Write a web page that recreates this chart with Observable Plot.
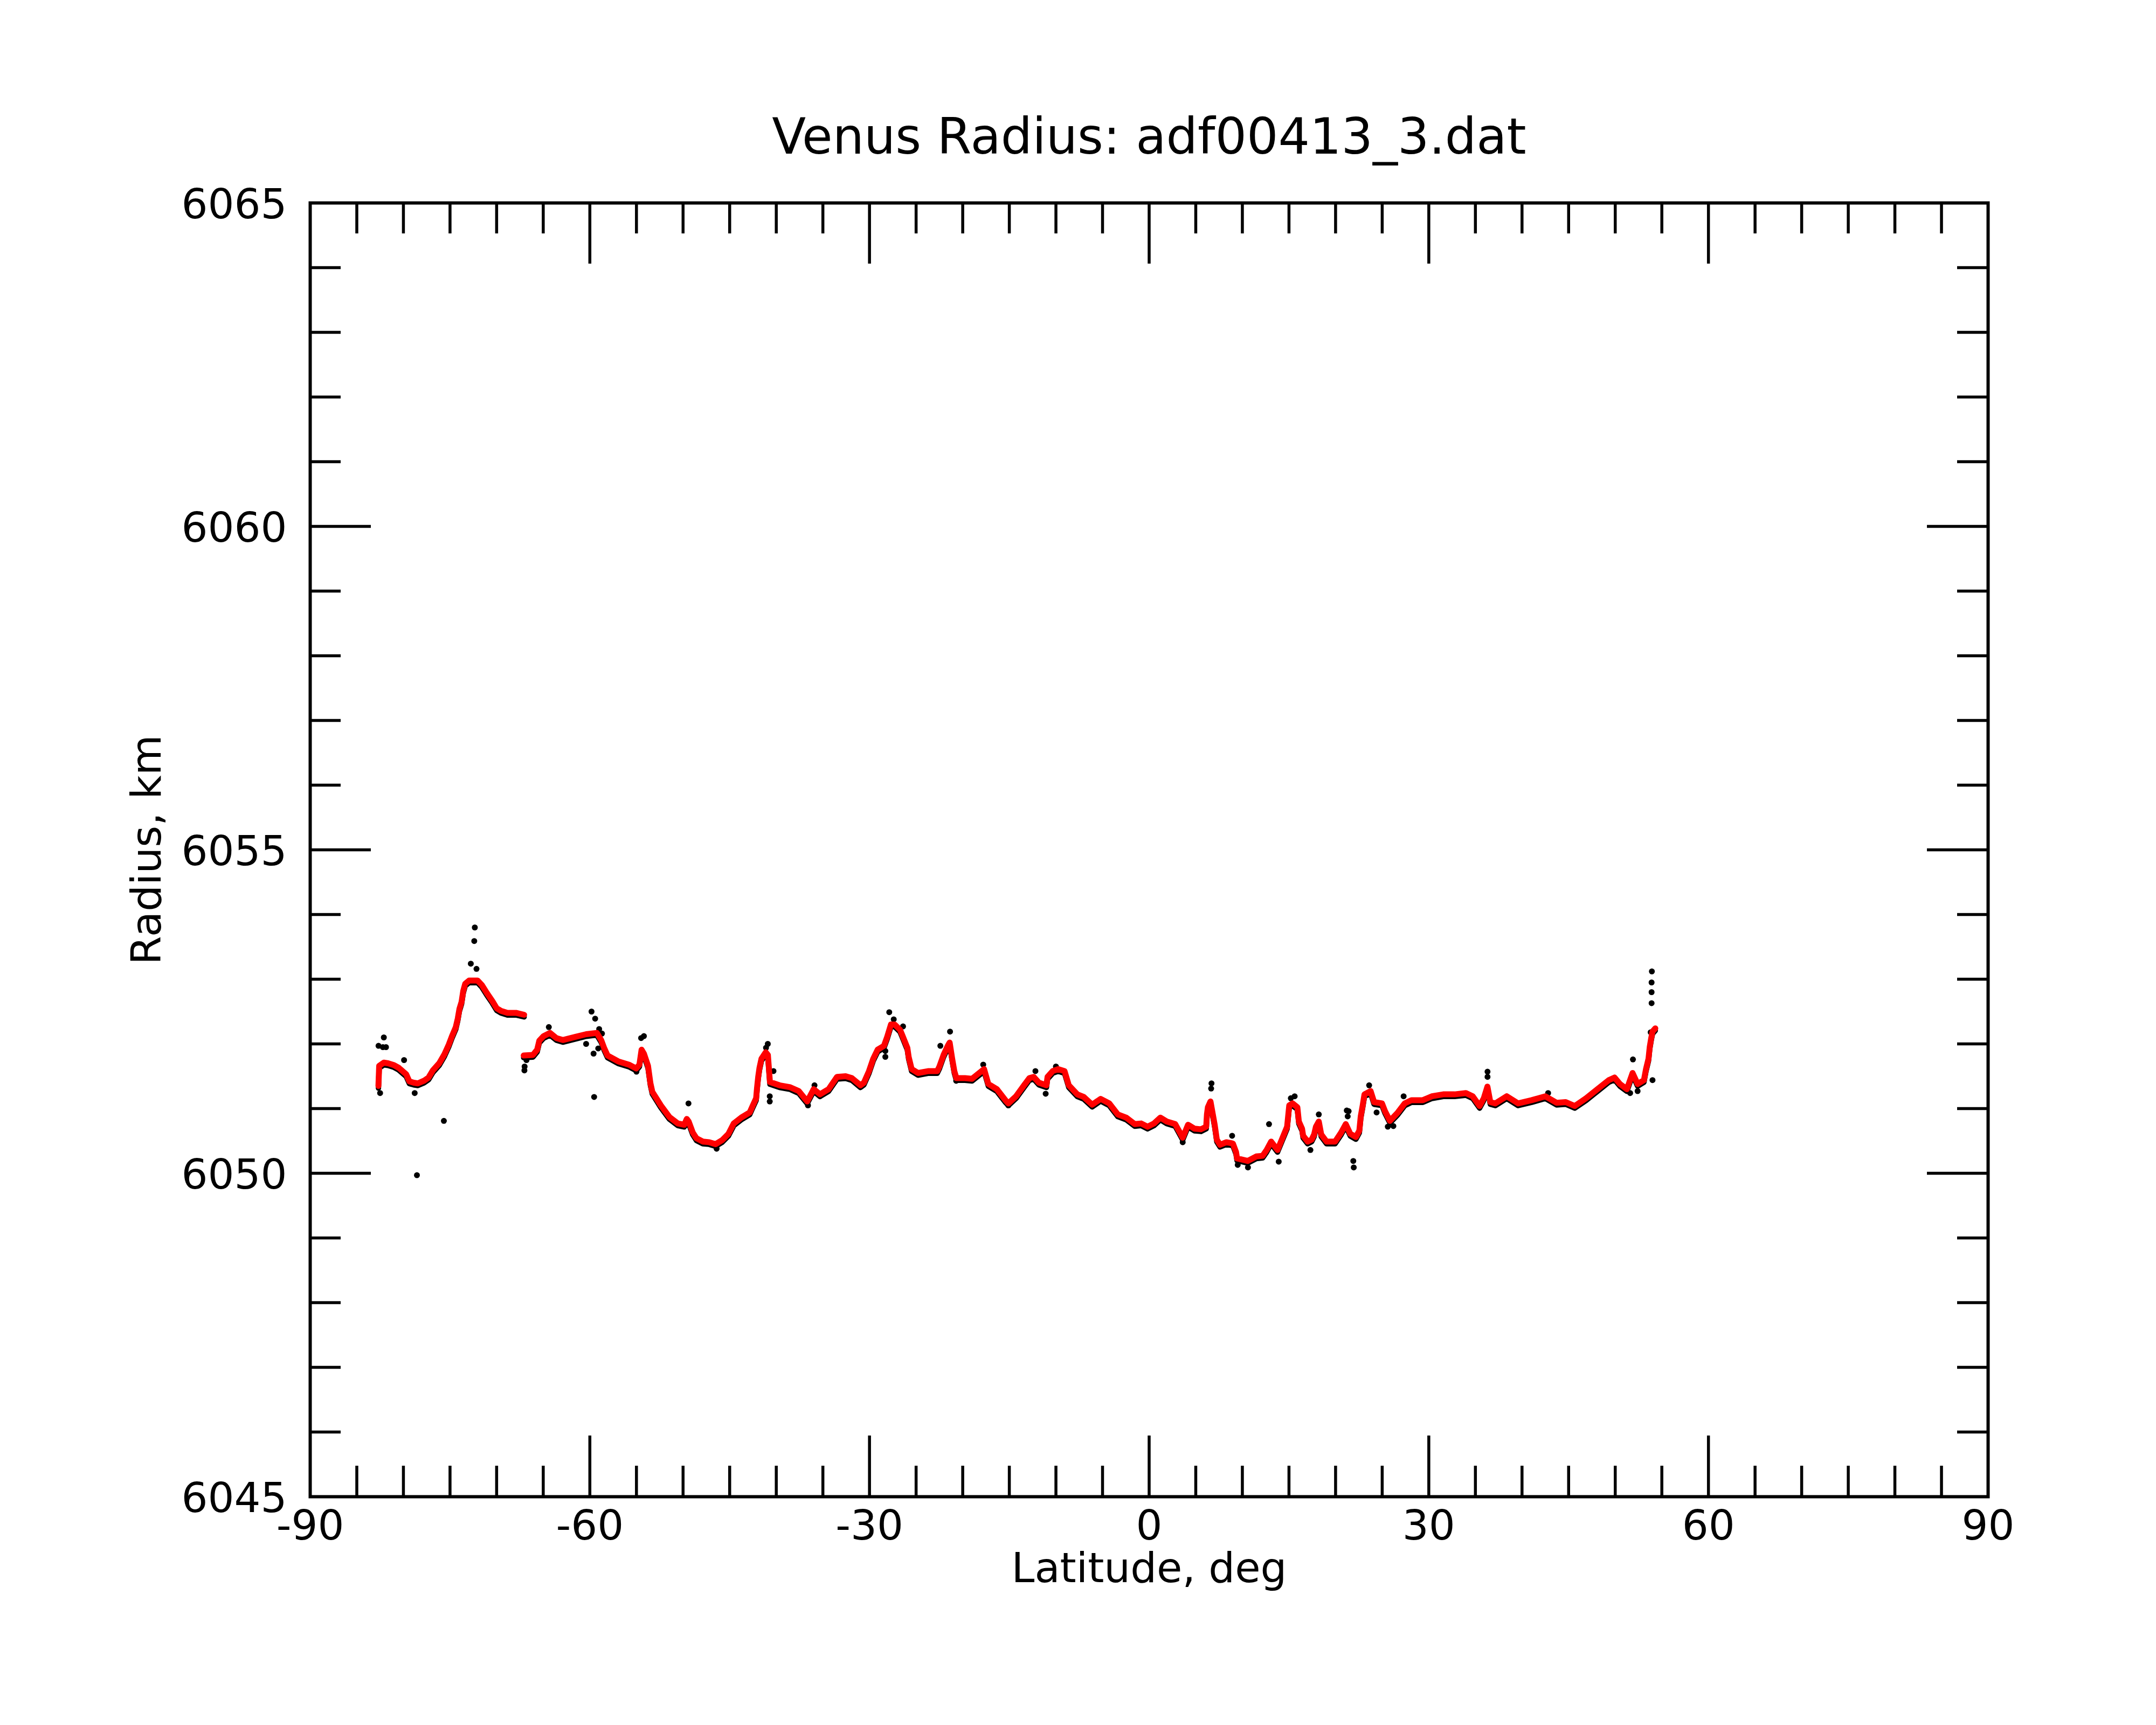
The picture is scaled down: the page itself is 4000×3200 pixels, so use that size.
<!DOCTYPE html>
<html>
<head>
<meta charset="utf-8">
<script src="https://cdn.jsdelivr.net/npm/d3@7"></script>
<script src="https://cdn.jsdelivr.net/npm/@observablehq/plot@0.6"></script>
<style>
  html, body { margin: 0; padding: 0; background: #fff; }
</style>
</head>
<body>
<div id="chart"></div>
<script>
const titleText = "Venus Radius: adf00413_3.dat";
const xLabel = "Latitude, deg";
const yLabel = "Radius, km";

const xTickLabels = [-90, -60, -30, 0, 30, 60, 90];
const yTickLabels = [6045, 6050, 6055, 6060, 6065];

// smoothed profile (red)
const redLat = [
  -82.68, -82.6, -82.1, -81.65, -81.0, -80.5, -79.7, -79.36, -78.9, -78.45, -77.8, -77.3, -76.84, -76.16,
  -75.6, -75.13, -74.79, -74.38, -74.17, -73.99, -73.76, -73.58, -73.37, -72.95, -72.5, -72.05, -71.59,
  -71.02, -70.45, -69.99, -69.53, -68.84, -67.93, -67.05,
  null,
  -67.1, -66.1, -65.65, -65.42, -64.96, -64.28, -63.59, -62.9, -61.53, -60.39, -59.25, -58.79, -58.45,
  -58.1, -56.96, -55.82, -55.02, -54.68, -54.45, -54.2, -53.76, -53.5, -53.3, -52.39, -51.47, -50.56,
  -49.87, -49.6, -49.4, -48.96, -48.56, -47.88, -47.19, -46.51, -45.82, -45.13, -44.56, -43.76, -42.85,
  -42.51, -42.16, -42.07, -41.94, -41.8, -41.59, -41.13, -40.9, -40.68, -39.65, -38.51, -37.59, -36.68,
  -35.99, -35.31, -34.39, -33.48, -32.56, -31.88, -30.97, -30.6, -30.05, -29.6, -29.13, -28.45, -28.1,
  -27.7, -27.31, -26.73, -26.5, -25.94, -25.8, -25.48, -24.79, -23.65, -22.73, -22.5, -22.05, -21.6,
  -21.4, -21.13, -20.9, -20.68, -19.76, -19.0, -17.71, -17.25, -16.34, -15.42, -15.1, -14.28, -13.42,
  -12.85, -12.39, -11.83, -11.02, -10.9, -10.34, -9.77, -9.08, -8.62, -7.71, -7.02, -6.11, -5.2, -4.28,
  -3.36, -2.45, -1.54, -0.86, -0.17, 0.52, 1.2, 1.89, 2.8, 3.6, 4.17, 4.86, 5.55, 6.12, 6.2, 6.3, 6.58,
  7.03, 7.26, 7.6, 8.29, 8.98, 9.32, 9.43, 10.58, 11.49, 12.17, 12.6, 13.09, 13.77, 14.23, 14.8, 15.03,
  15.38, 15.9, 16.06, 16.4, 16.52, 17.0, 17.43, 17.7, 17.89, 18.2, 18.46, 19.03, 19.95, 20.6, 21.09,
  21.58, 22.18, 22.55, 22.7, 22.91, 23.1, 23.76, 24.13, 24.98, 25.3, 25.83, 26.68, 27.42, 28.14, 29.36,
  30.33, 31.55, 32.77, 33.98, 34.71, 35.45, 35.9, 36.29, 36.6, 37.14, 38.36, 39.58, 41.04, 42.5, 43.71,
  44.69, 45.66, 46.88, 48.09, 49.31, 49.92, 50.5, 51.25, 51.86, 52.4, 53.08, 53.3, 53.57, 53.7, 53.85,
  54.0, 54.3
];
const redRad = [
  6051.35, 6051.66, 6051.71, 6051.70, 6051.67, 6051.63, 6051.53, 6051.42, 6051.40, 6051.39, 6051.43, 6051.48, 6051.59, 6051.70,
  6051.84, 6051.99, 6052.12, 6052.26, 6052.39, 6052.54, 6052.65, 6052.82, 6052.93, 6052.98, 6052.98, 6052.98, 6052.91,
  6052.78, 6052.66, 6052.55, 6052.51, 6052.48, 6052.48, 6052.45,
  null,
  6051.82, 6051.83, 6051.91, 6052.05, 6052.12, 6052.17, 6052.09, 6052.06, 6052.11, 6052.15, 6052.17, 6052.06, 6051.93,
  6051.82, 6051.73, 6051.68, 6051.62, 6051.68, 6051.91, 6051.85, 6051.66, 6051.39, 6051.26, 6051.05, 6050.87, 6050.77,
  6050.75, 6050.84, 6050.80, 6050.63, 6050.54, 6050.49, 6050.48, 6050.45, 6050.51, 6050.61, 6050.77, 6050.86, 6050.94,
  6051.05, 6051.16, 6051.31, 6051.49, 6051.63, 6051.77, 6051.87, 6051.83, 6051.41, 6051.36, 6051.33, 6051.27, 6051.11,
  6051.30, 6051.22, 6051.30, 6051.49, 6051.50, 6051.47, 6051.36, 6051.40, 6051.58, 6051.77, 6051.91, 6051.97, 6052.11,
  6052.30, 6052.30, 6052.22, 6052.14, 6051.94, 6051.80, 6051.61, 6051.55, 6051.58, 6051.58, 6051.65, 6051.83, 6051.97,
  6052.02, 6051.77, 6051.58, 6051.47, 6051.47, 6051.46, 6051.61, 6051.38, 6051.30, 6051.13, 6051.08, 6051.19, 6051.36,
  6051.47, 6051.49, 6051.40, 6051.36, 6051.49, 6051.58, 6051.61, 6051.58, 6051.36, 6051.22, 6051.18, 6051.06, 6051.15, 6051.08,
  6050.91, 6050.86, 6050.76, 6050.77, 6050.72, 6050.77, 6050.86, 6050.80, 6050.76, 6050.55, 6050.75, 6050.69, 6050.68, 6050.72, 6050.91, 6051.02, 6051.11,
  6050.75, 6050.52, 6050.44, 6050.48, 6050.46, 6050.33, 6050.23, 6050.19, 6050.26, 6050.27, 6050.36, 6050.49, 6050.36, 6050.52, 6050.72, 6051.05,
  6051.08, 6051.02, 6050.80, 6050.69, 6050.58, 6050.49, 6050.52, 6050.60, 6050.72, 6050.80, 6050.60, 6050.49, 6050.49, 6050.63, 6050.76,
  6050.61, 6050.56, 6050.66, 6050.88, 6051.05, 6051.22, 6051.27, 6051.10, 6051.08, 6050.96, 6050.81, 6050.94, 6051.08, 6051.13, 6051.13,
  6051.19, 6051.22, 6051.22, 6051.24, 6051.19, 6051.04, 6051.16, 6051.34, 6051.10, 6051.08, 6051.19, 6051.08, 6051.13, 6051.19, 6051.09,
  6051.10, 6051.04, 6051.16, 6051.30, 6051.44, 6051.48, 6051.38, 6051.30, 6051.55, 6051.38, 6051.44, 6051.61, 6051.77, 6051.95, 6052.08,
  6052.19, 6052.24
];

// raw points standing out from the smoothed profile (black)
const blackLat = [
  -82.67, -82.2, -82.1, -81.87, -82.5, -79.93, -78.79, -78.55, -75.66, -72.34, -72.4, -72.77, -72.16,
  -67.02, -67.0, -66.8, -64.4, -59.82, -59.43, -60.4, -59.6, -59.1, -59.0, -58.7, -59.54, -54.5, -54.2,
  -55.0, -49.42, -46.4, -40.91, -41.1, -40.3, -40.7, -40.7, -36.6, -35.9, -27.88, -27.4, -26.4, -28.3,
  -28.3, -21.36, -22.4, -17.8, -15.1, -20.7, -11.1, -10.0, -12.2, 3.6, 6.69, 6.65, 8.9, 12.86, 13.9,
  15.61, 15.2, 18.2, 21.2, 9.5, 10.6, 17.3, 21.9, 21.95, 21.4, 21.3, 23.6, 24.4, 25.6, 26.2, 27.3, 36.3,
  36.3, 42.8, 51.9, 51.6, 52.4, 53.93, 53.9, 53.9, 53.9, 54.0, 53.8
];
const blackRad = [
  6051.97, 6051.95, 6052.10, 6051.95, 6051.24, 6051.75, 6051.24, 6049.97, 6050.81, 6053.80, 6053.59, 6053.24, 6053.16,
  6051.59, 6051.65, 6051.75, 6052.26, 6052.50, 6052.39, 6052.00, 6051.85, 6051.93, 6052.23, 6052.16, 6051.18, 6052.09, 6052.12,
  6051.57, 6051.08, 6050.38, 6052.00, 6051.94, 6051.58, 6051.19, 6051.11, 6051.05, 6051.36, 6052.49, 6052.38, 6052.27, 6051.80,
  6051.89, 6052.19, 6051.97, 6051.68, 6051.05, 6051.43, 6051.23, 6051.65, 6051.58, 6050.48, 6051.39, 6051.31, 6050.58, 6050.76, 6050.18,
  6051.19, 6051.16, 6050.91, 6050.97, 6050.13, 6050.09, 6050.36, 6050.19, 6050.09, 6050.96, 6050.88, 6051.36, 6050.94, 6050.72, 6050.73, 6051.19, 6051.57,
  6051.49, 6051.24, 6051.76, 6051.24, 6051.27, 6053.12, 6052.95, 6052.80, 6052.63, 6051.44, 6052.18
];

const red = redLat.map((lat, i) => ({lat, r: redRad[i]}));
const black = blackLat.map((lat, i) => ({lat, r: blackRad[i]}));

const xMinor = d3.range(-85, 90, 5).filter(d => d % 30 !== 0);
const xMajorInner = xTickLabels.filter(d => d > -90 && d < 90);
const yMinor = d3.range(6046, 6065, 1).filter(d => d % 5 !== 0);
const yMajorInner = yTickLabels.filter(d => d > 6045 && d < 6065);

const W = 4000, H = 3200;
const mL = 575, mR = 312, mT = 376, mB = 424;
const pw = W - mL - mR, ph = H - mT - mB;
const majLen = 113, minLen = 57, tw = 5.5;
const fs = 77;

const chart = Plot.plot({
  width: W,
  height: H,
  marginLeft: mL,
  marginRight: mR,
  marginTop: mT,
  marginBottom: mB,
  style: {fontFamily: "DejaVu Sans", background: "white", color: "black"},
  x: {domain: [-90, 90], axis: null},
  y: {domain: [6045, 6065], axis: null},
  marks: [
    // black raw points under the smoothed curve
    Plot.line(red, {x: "lat", y: "r", stroke: "black", strokeWidth: 10, dy: 4, strokeLinecap: "round", strokeLinejoin: "round"}),
    Plot.dot(black, {x: "lat", y: "r", r: 5.5, fill: "black", stroke: "none"}),
    Plot.line(red, {x: "lat", y: "r", stroke: "#ff0000", strokeWidth: 11, strokeLinecap: "round", strokeLinejoin: "round"}),
    // ticks (inward, all four sides)
    Plot.tickX(xMajorInner, {x: d => d, stroke: "black", strokeWidth: tw, insetTop: ph - majLen}),
    Plot.tickX(xMajorInner, {x: d => d, stroke: "black", strokeWidth: tw, insetBottom: ph - majLen}),
    Plot.tickX(xMinor, {x: d => d, stroke: "black", strokeWidth: tw, insetTop: ph - minLen}),
    Plot.tickX(xMinor, {x: d => d, stroke: "black", strokeWidth: tw, insetBottom: ph - minLen}),
    Plot.tickY(yMajorInner, {y: d => d, stroke: "black", strokeWidth: tw, insetRight: pw - majLen}),
    Plot.tickY(yMajorInner, {y: d => d, stroke: "black", strokeWidth: tw, insetLeft: pw - majLen}),
    Plot.tickY(yMinor, {y: d => d, stroke: "black", strokeWidth: tw, insetRight: pw - minLen}),
    Plot.tickY(yMinor, {y: d => d, stroke: "black", strokeWidth: tw, insetLeft: pw - minLen}),
    Plot.frame({stroke: "black", strokeWidth: 6}),
    // tick labels
    Plot.text(xTickLabels, {x: d => d, text: d => String(d), frameAnchor: "bottom", dy: 79, lineAnchor: "bottom", fontSize: fs, fill: "black"}),
    Plot.text(yTickLabels, {y: d => d, text: d => String(d), frameAnchor: "left", dx: -43, dy: 28, textAnchor: "end", lineAnchor: "bottom", fontSize: fs, fill: "black"}),
    // titles
    Plot.text([titleText], {text: d => d, frameAnchor: "top", dy: -92, lineAnchor: "bottom", textAnchor: "middle", fontSize: 92, fill: "black"}),
    Plot.text([xLabel], {text: d => d, frameAnchor: "bottom", dy: 158, lineAnchor: "bottom", textAnchor: "middle", fontSize: fs, fill: "black"}),
    Plot.text([yLabel], {text: d => d, frameAnchor: "left", dx: -278, rotate: -90, lineAnchor: "bottom", textAnchor: "middle", fontSize: fs, fill: "black"})
  ]
});
document.getElementById("chart").appendChild(chart);
</script>
</body>
</html>
